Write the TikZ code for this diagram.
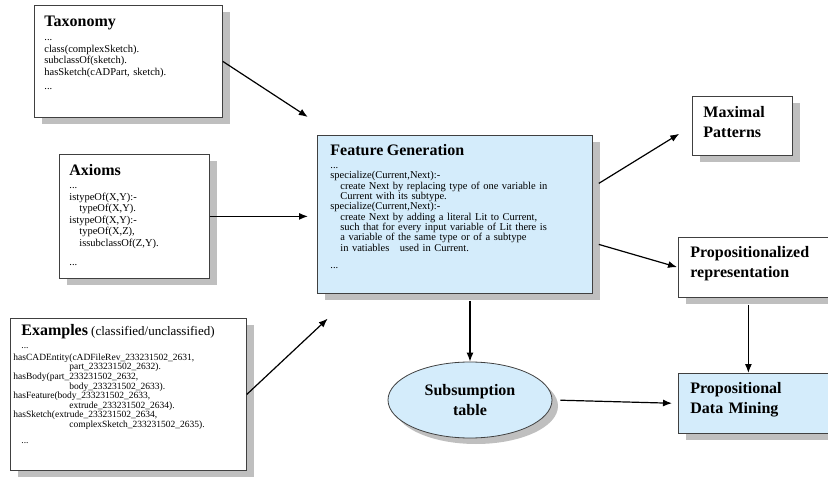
\documentclass[tikz,border=0pt]{standalone}
\usepackage{fontspec}
\setmainfont{Liberation Serif}
\usetikzlibrary{arrows.meta,shadows,shapes.geometric}
\definecolor{featblue}{RGB}{212,236,251}
\newcommand{\boxtitle}[1]{{\fontsize{16}{18}\selectfont\bfseries #1}}

\begin{document}
\begin{tikzpicture}
			[
				x = 1pt, y = -1pt,
				box/.style = {draw = black!75, line width = 0.8pt, fill = white, anchor = north west,
					align = left, inner xsep = 10pt, inner ysep = 10pt, text height = 11pt,
					font = \fontsize{10.5}{11.5}\selectfont,
					drop shadow = {shadow xshift = 8pt, shadow yshift = -7pt, fill = black!25, opacity = 1}},
				headbox/.style = {box, inner xsep = 12pt, inner ysep = 9pt, font = \fontsize{16}{20}\selectfont\bfseries},
				arr/.style = {-{Latex[length = 9pt, width = 7pt]}, line width = 1.2pt}
			]
			\useasboundingbox (0,0) rectangle (828,481);
			\node[box, text width = 168pt, text depth = 81pt] (tax) at (34,5)
				{\boxtitle{Taxonomy}\\[3pt]
				...\\
				class(complexSketch).\\
				subclassOf(sketch).\\
				hasSketch(cADPart, sketch).\\[3pt]
				...};
			\node[box, text width = 130pt, text depth = 93pt] (ax) at (59,154)
				{\boxtitle{Axioms}\\[2pt]
				...\\
				istypeOf(X,Y):-\\
				\hspace*{10pt}typeOf(X,Y).\\
				istypeOf(X,Y):-\\
				\hspace*{10pt}typeOf(X,Z),\\
				\hspace*{10pt}issubclassOf(Z,Y).\\[8pt]
				...};
			\node[box, inner xsep = 3pt, inner ysep = 6pt, text width = 230pt, text depth = 129pt,
				font = \fontsize{9.5}{9.6}\selectfont] (ex) at (10,318)
				{\hspace*{8pt}\boxtitle{Examples} {\fontsize{13}{14}\selectfont(classified/unclassified)}\\[3.4pt]
				\hspace*{8pt}...\\[2.4pt]
				hasCADEntity(cADFileRev\_233231502\_2631,\\
				\hspace*{56pt}part\_233231502\_2632).\\
				hasBody(part\_233231502\_2632,\\
				\hspace*{56pt}body\_233231502\_2633).\\
				hasFeature(body\_233231502\_2633,\\
				\hspace*{56pt}extrude\_233231502\_2634).\\
				hasSketch(extrude\_233231502\_2634,\\
				\hspace*{56pt}complexSketch\_233231502\_2635).\\[6pt]
				\hspace*{8pt}...};
			\node[box, fill = featblue, inner xsep = 13pt, inner ysep = 9pt, text width = 249pt, text depth = 129pt,
				font = \fontsize{10.5}{10.3}\selectfont] (fg) at (317,135)
				{\boxtitle{Feature Generation}\\[3pt]
				...\\
				specialize(Current,Next):-\\
				\hspace*{10pt}create Next by replacing type of one variable in\\
				\hspace*{10pt}Current with its subtype.\\
				specialize(Current,Next):-\\
				\hspace*{10pt}create Next by adding a literal Lit to Current,\\
				\hspace*{10pt}such that for every input variable of Lit there is\\
				\hspace*{10pt}a variable of the same type or of a subtype\\
				\hspace*{10pt}in vatiables\ \ \ used in Current.\\[7pt]
				...};
			\node[headbox, inner xsep = 11pt, inner ysep = 10pt, text width = 78pt, text depth = 28pt] (mp) at (692,96)
				{Maximal\\Patterns};
			\node[headbox, text width = 138pt, text depth = 31pt] (pr) at (678,237)
				{Propositionalized\\representation};
			\node[headbox, fill = featblue, text width = 138pt, text depth = 31pt] (pdm) at (678,373)
				{Propositional\\Data Mining};
			\node[ellipse, draw = black!75, line width = 0.8pt, fill = featblue, minimum width = 164pt,
				minimum height = 76pt, inner sep = 0pt, align = center, font = \fontsize{16}{20}\selectfont\bfseries,
				drop shadow = {shadow xshift = 6pt, shadow yshift = -6pt, fill = black!25, opacity = 1}] (sub) at (470,400)
				{Subsumption\\table};
			\draw[arr, shorten > = 11pt] (tax.east) -- ([yshift = 12pt]fg.north west);
			\draw[arr, shorten > = 9pt] (ax.east) -- (ax.east -| fg.west);
			\draw[arr, shorten > = 10pt] (ex.east) -- ([shift = {(18pt,-18pt)}]fg.south west);
			\draw[arr, shorten > = 15pt] ([shift = {(6pt,31pt)}]fg.east) -- (mp.west);
			\draw[arr, shorten > = 1pt] ([shift = {(6pt,-30pt)}]fg.east) -- (pr.west);
			\draw[arr, shorten < = 7pt] (sub.north |- fg.south) -- (sub.north);
			\draw[arr, shorten < = 7pt] ([xshift = -11pt]pr.south) -- ([xshift = -11pt]pdm.north);
			\draw[arr, shorten < = 8pt, shorten > = 6pt] (sub.east) -- (pdm.west);
\end{tikzpicture}
\end{document}
